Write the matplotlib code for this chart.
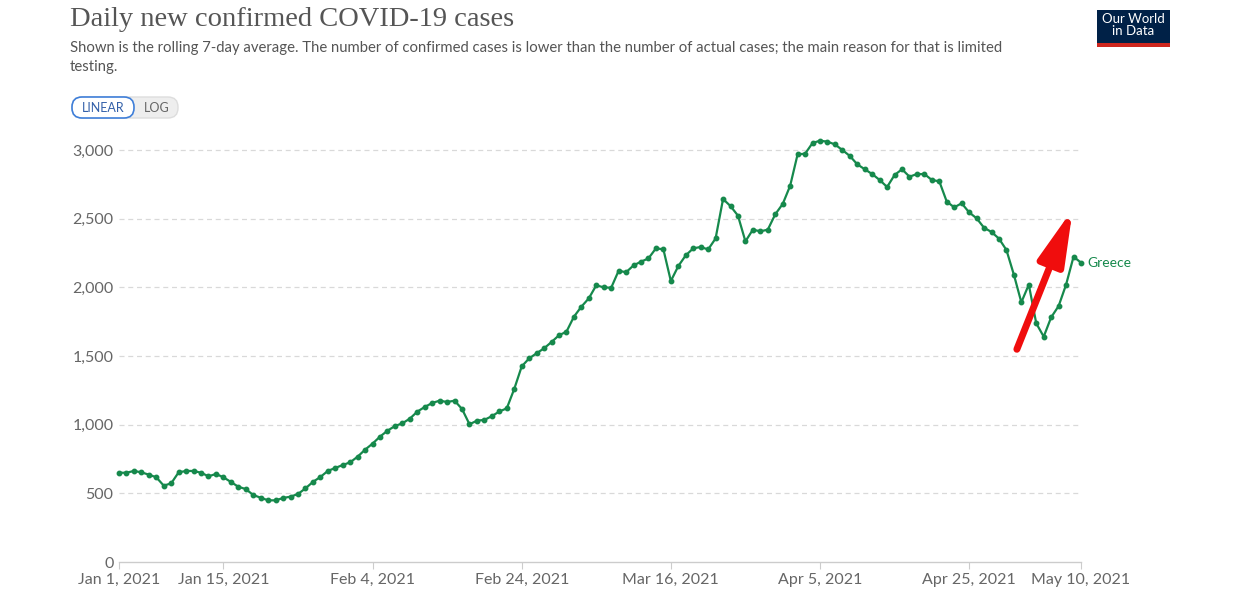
import matplotlib.pyplot as plt
from matplotlib.patches import FancyBboxPatch, Rectangle

plt.rcParams['font.family'] = ['Lato', 'DejaVu Sans']

# 7-day rolling average of new cases, Greece, Jan 1 - May 10 2021 (one value per day)
cases = [650, 650, 663, 653, 636, 617, 556, 573, 653, 663,
         663, 650, 624, 641, 617, 583, 548, 531, 488, 468,
         449, 449, 466, 476, 495, 536, 583, 619, 663, 685,
         706, 726, 767, 818, 862, 913, 956, 990, 1010, 1044,
         1095, 1129, 1158, 1175, 1165, 1175, 1114, 1003, 1029, 1035,
         1062, 1096, 1119, 1260, 1424, 1483, 1520, 1556, 1602, 1651,
         1677, 1786, 1859, 1920, 2015, 2000, 1997, 2121, 2110, 2160,
         2187, 2211, 2284, 2277, 2046, 2155, 2233, 2284, 2294, 2276,
         2356, 2643, 2592, 2522, 2335, 2420, 2408, 2420, 2532, 2607,
         2740, 2969, 2973, 3051, 3068, 3061, 3041, 3000, 2957, 2896,
         2860, 2825, 2782, 2731, 2818, 2860, 2806, 2825, 2825, 2782,
         2772, 2624, 2583, 2612, 2546, 2503, 2434, 2403, 2355, 2272,
         2092, 1891, 2020, 1738, 1641, 1782, 1864, 2020, 2223, 2180]
days = list(range(len(cases)))

tick_days = [0, 14, 34, 54, 74, 94, 114, 129]
tick_labels = ['Jan 1, 2021', 'Jan 15, 2021', 'Feb 4, 2021', 'Feb 24, 2021',
               'Mar 16, 2021', 'Apr 5, 2021', 'Apr 25, 2021', 'May 10, 2021']
y_ticks = [0, 500, 1000, 1500, 2000, 2500, 3000]
y_labels = ['0', '500', '1,000', '1,500', '2,000', '2,500', '3,000']

green = '#16894c'
grey = '#666666'

fig = plt.figure(figsize=(12.4, 6), dpi=100)
ax = fig.add_axes([119 / 1240, 38 / 600, 962 / 1240, (562 - 136.3) / 600])

ax.plot(days, cases, color=green, lw=1.6, marker='o', ms=3.2, clip_on=False)
ax.set_xlim(0, 129)
ax.set_ylim(0, 3100)

for v in y_ticks[1:]:
    ax.axhline(v, color='#d9d9d9', lw=0.9, ls=(0, (4, 3)), zorder=0)

for s in ['top', 'right', 'left']:
    ax.spines[s].set_visible(False)
ax.spines['bottom'].set_color('#cccccc')
ax.spines['bottom'].set_linewidth(1)

ax.set_xticks(tick_days)
ax.set_xticklabels(tick_labels, fontsize=11.5, color=grey)
ax.set_yticks(y_ticks)
ax.set_yticklabels(y_labels, fontsize=11.5, color=grey)
ax.tick_params(axis='x', length=5, color='#cccccc', pad=3)
ax.tick_params(axis='y', length=0, pad=4)

ax.text(129 + 0.8, 2180, 'Greece', color=green, fontsize=10, va='center', ha='left')

# red arrow
ax.annotate('', xy=(127.9, 2570), xytext=(120.4, 1549),
            arrowprops=dict(arrowstyle='-|>,head_length=3.3,head_width=0.8',
                            color='#f00d0d', lw=5, shrinkA=0, shrinkB=0))

# title and subtitle
fig.text(70 / 1240, 1 - 20 / 600, 'Daily new confirmed COVID-19 cases',
         family=['Liberation Serif', 'DejaVu Serif'], fontsize=20.5, color='#555555',
         va='center', ha='left')
fig.text(70 / 1240, 1 - 48 / 600,
         'Shown is the rolling 7-day average. The number of confirmed cases is lower than the number of actual cases; '
         'the main reason for that is limited', fontsize=10.7, color='#555555', va='center', ha='left')
fig.text(70 / 1240, 1 - 67 / 600, 'testing.', fontsize=10.7, color='#555555', va='center', ha='left')

# LINEAR / LOG toggle
fig.patches.append(FancyBboxPatch((72, 600 - 118), 106, 21, boxstyle='round,pad=0,rounding_size=10',
                                  transform=None, facecolor='#eeeeee', edgecolor='#dddddd', lw=1))
fig.patches.append(FancyBboxPatch((72, 600 - 118), 62, 21, boxstyle='round,pad=0,rounding_size=10',
                                  transform=None, facecolor='white', edgecolor='#3f7fd9', lw=1.2))
fig.text(103 / 1240, 1 - 107.5 / 600, 'LINEAR', fontsize=9, color='#3360a9', va='center', ha='center')
fig.text(157 / 1240, 1 - 107.5 / 600, 'LOG', fontsize=9, color='#666666', va='center', ha='center')

# logo
fig.patches.append(Rectangle((1097, 600 - 47), 73, 37, transform=None, facecolor='#002147'))
fig.patches.append(Rectangle((1097, 600 - 47), 73, 4, transform=None, facecolor='#ce261e'))
fig.text(1133.5 / 1240, 1 - 25 / 600, 'Our World\nin Data', fontsize=9.5, color='white',
         ha='center', va='center', linespacing=0.95)

fig.savefig('out.png', dpi=100)
